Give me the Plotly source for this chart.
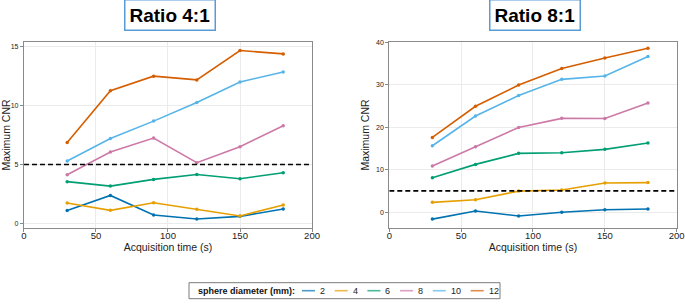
import plotly.graph_objects as go

acq_time = [30, 60, 90, 120, 150, 180]
diameters = ["2", "4", "6", "8", "10", "12"]
colors = ["#0072B2", "#E69F00", "#009E73", "#CC79A7", "#56B4E9", "#D55E00"]

ratio4_2 = [1.08, 2.37, 0.71, 0.37, 0.59, 1.22]
ratio4_4 = [1.72, 1.10, 1.75, 1.19, 0.62, 1.56]
ratio4_6 = [3.54, 3.16, 3.73, 4.15, 3.79, 4.30]
ratio4_8 = [4.12, 6.05, 7.24, 5.15, 6.50, 8.29]
ratio4_10 = [5.29, 7.20, 8.68, 10.26, 12.00, 12.86]
ratio4_12 = [6.87, 11.27, 12.50, 12.18, 14.68, 14.39]

ratio8_2 = [-1.65, 0.25, -0.92, -0.05, 0.55, 0.72]
ratio8_4 = [2.3, 2.9, 4.95, 5.2, 6.85, 6.95]
ratio8_6 = [8.1, 11.25, 13.85, 14.0, 14.8, 16.3]
ratio8_8 = [10.85, 15.4, 19.95, 22.1, 22.05, 25.7]
ratio8_10 = [15.65, 22.65, 27.5, 31.3, 32.1, 36.7]
ratio8_12 = [17.6, 24.95, 29.95, 33.85, 36.35, 38.65]

threshold = 5
x_range = [0, 200]
legend_title = "sphere diameter (mm):"

series4 = [ratio4_2, ratio4_4, ratio4_6, ratio4_8, ratio4_10, ratio4_12]
series8 = [ratio8_2, ratio8_4, ratio8_6, ratio8_8, ratio8_10, ratio8_12]

W, H = 685, 308
fig = go.Figure()

for i, (d, c) in enumerate(zip(diameters, colors)):
    fig.add_trace(go.Scatter(x=acq_time, y=series4[i], mode="lines+markers", name=d,
                             line=dict(color=c, width=1.6), marker=dict(color=c, size=3.5),
                             showlegend=False, xaxis="x", yaxis="y"))
    fig.add_trace(go.Scatter(x=acq_time, y=series8[i], mode="lines+markers", name=d,
                             line=dict(color=c, width=1.6), marker=dict(color=c, size=3.5),
                             showlegend=False, xaxis="x2", yaxis="y2"))

for xa, ya in [("x", "y"), ("x2", "y2")]:
    fig.add_trace(go.Scatter(x=x_range, y=[threshold, threshold], mode="lines",
                             line=dict(color="black", width=1.6, dash="5px,3px"),
                             showlegend=False, hoverinfo="skip", xaxis=xa, yaxis=ya))

# ---- manual legend (short line samples like the reference) ----
shapes = []
annotations = []
leg_left, leg_right, leg_top, leg_bottom = 189, 500, 282.7, 298.7
leg_yc = 1 - (leg_top + leg_bottom) / 2 / H
shapes.append(dict(type="rect", xref="paper", yref="paper",
                   x0=leg_left / W, x1=leg_right / W, y0=1 - leg_bottom / H, y1=1 - leg_top / H,
                   line=dict(color="#7a7a7a", width=1), fillcolor="white", layer="below"))
annotations.append(dict(text="<b>" + legend_title + "</b>", x=196 / W, y=leg_yc, xref="paper", yref="paper",
                        xanchor="left", yanchor="middle", showarrow=False,
                        font=dict(size=9, color="#111")))
pos = 302
line_len, gap_txt, digit_w, gap_item = 13, 3, 5.2, 11.5
for d, c in zip(diameters, colors):
    shapes.append(dict(type="line", xref="paper", yref="paper",
                       x0=pos / W, x1=(pos + line_len) / W, y0=leg_yc, y1=leg_yc,
                       line=dict(color=c, width=1.6), opacity=0.7))
    annotations.append(dict(text=d, x=(pos + line_len + gap_txt) / W, y=leg_yc, xref="paper", yref="paper",
                            xanchor="left", yanchor="middle", showarrow=False,
                            font=dict(size=9, color="#222")))
    pos += line_len + gap_txt + digit_w * len(d) + gap_item

for txt, xc in [("<b>Ratio 4:1</b>", 0.248), ("<b>Ratio 8:1</b>", 0.7803)]:
    annotations.append(dict(text=txt, x=xc, y=0.951, xref="paper", yref="paper",
                            xanchor="center", yanchor="middle", showarrow=False,
                            font=dict(size=19, color="black"), bordercolor="#5b9bd5", borderwidth=1.5,
                            borderpad=4, bgcolor="white"))

axis_common = dict(showline=True, linecolor="#8a8a8a", linewidth=1.2, mirror=True,
                   ticks="outside", ticklen=3, tickcolor="#8a8a8a", automargin=False,
                   showgrid=True, gridcolor="#ebebeb", zeroline=False)
xaxis_common = dict(range=[0, 200], tickvals=[0, 50, 100, 150, 200], tickfont=dict(size=9.5),
                    ticklabelstandoff=-5,
                    title=dict(text="Acquisition time (s)", font=dict(size=10.5), standoff=0))
yaxis_title = dict(text="Maximum CNR", font=dict(size=10.5), standoff=4)

fig.update_layout(
    width=W, height=H,
    margin=dict(l=0, r=0, t=0, b=0, autoexpand=False),
    paper_bgcolor="white", plot_bgcolor="white",
    font=dict(family="Liberation Sans, Arial, sans-serif", color="#222"),
    showlegend=False,
    xaxis=dict(domain=[0.035, 0.4555], anchor="y", **xaxis_common, **axis_common),
    yaxis=dict(domain=[0.2597, 0.8636], range=[-0.4, 15.4], tickvals=[0, 5, 10, 15],
               tickfont=dict(size=7), title=yaxis_title, anchor="x", **axis_common),
    xaxis2=dict(domain=[0.5683, 0.9879], anchor="y2", **xaxis_common, **axis_common),
    yaxis2=dict(domain=[0.2597, 0.8636], range=[-3.75, 40.1], tickvals=[0, 10, 20, 30, 40],
                tickfont=dict(size=7), title=yaxis_title, anchor="x2", **axis_common),
    shapes=shapes,
    annotations=annotations,
)

fig.write_html("out.html", config={"displayModeBar": False},
               post_script="document.body.style.margin='0';document.body.style.overflow='hidden';")
